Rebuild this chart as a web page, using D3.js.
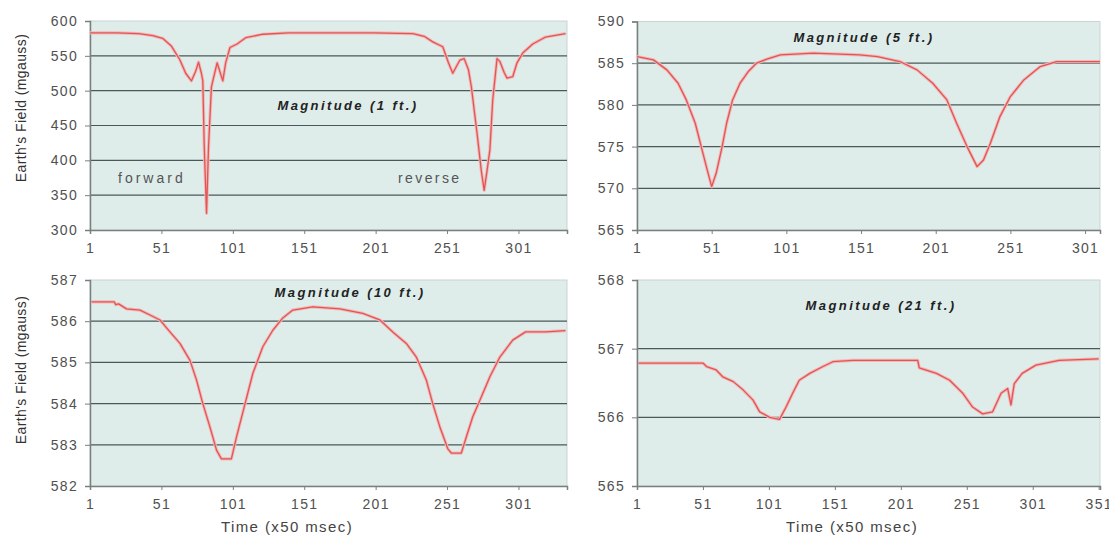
<!DOCTYPE html>
<html>
<head>
<meta charset="utf-8">
<script src="https://cdn.jsdelivr.net/npm/d3@7"></script>
<style>
  body { margin: 0; background: #fff; }
  svg { display: block; font-family: "Liberation Sans", Arial, sans-serif; }
  .tick text { fill: #505050; font-size: 14px; letter-spacing: 1.3px; }
  .axis path, .axis line { stroke: #7a7f7f; }
</style>
</head>
<body>
<svg id="chart" width="1109" height="538"></svg>
<script>
// Magnitude (1 ft.)
const time1 = [1, 20, 35, 45, 52, 58, 64, 68, 72, 75, 77, 79, 80, 81, 82.6, 84, 86, 87, 90, 94, 96, 99, 104, 110, 122, 140, 200, 227, 235, 241, 248, 252, 255, 260, 263, 266, 268, 272, 275, 277, 279, 281, 283, 286, 288, 291, 293, 297, 300, 304, 311, 320, 334];
const value1 = [583, 583, 582, 579, 575, 564, 544, 525, 514, 528, 541, 525, 514, 420, 324, 420, 505, 514, 540, 514, 540, 562, 567, 576, 581, 583, 583, 582, 578, 570, 563, 540, 525, 544, 546, 530, 506, 439, 385, 357, 385, 415, 487, 546, 542, 526, 518, 520, 540, 554, 567, 577, 582];

// Magnitude (5 ft.)
const time2 = [1, 12, 21, 28.5, 34, 40, 44, 48, 51, 54, 58, 61, 65, 70, 75.5, 81, 88, 97, 119, 150, 162, 177, 188.5, 199, 208.5, 215, 222, 228.7, 233, 237.6, 244, 251, 260, 271, 282, 311];
const value2 = [585.8, 585.4, 584.2, 582.6, 580.6, 577.8, 575, 572.2, 570.2, 571.8, 575, 577.8, 580.6, 582.6, 584, 585, 585.5, 586, 586.2, 586, 585.8, 585.2, 584.2, 582.6, 580.6, 577.8, 575, 572.6, 573.4, 575.4, 578.6, 581, 583, 584.6, 585.2, 585.2];

// Magnitude (10 ft.)
const time3 = [2, 18, 19, 21, 26.6, 36, 43, 50, 57, 64, 71, 75.6, 80, 85, 89.6, 93, 100, 103.6, 109, 115, 122, 129, 136, 143, 157, 176, 192, 204, 213, 222.5, 229.5, 236.5, 241, 246, 251.6, 254, 261, 264.5, 269, 274, 281, 288, 297, 306, 320, 334];
const value3 = [586.47, 586.47, 586.4, 586.42, 586.3, 586.27, 586.15, 586.03, 585.74, 585.46, 585.05, 584.57, 584, 583.43, 582.87, 582.66, 582.66, 583.19, 583.92, 584.73, 585.38, 585.78, 586.08, 586.27, 586.35, 586.3, 586.19, 586.03, 585.74, 585.46, 585.13, 584.57, 584, 583.43, 582.9, 582.8, 582.8, 583.19, 583.68, 584.08, 584.65, 585.13, 585.54, 585.74, 585.74, 585.77];

// Magnitude (21 ft.)
const time4 = [2, 30, 51, 53.7, 61, 66, 74, 81.4, 89, 94, 101.6, 109, 114, 119, 124, 132, 142, 149.5, 164.6, 213.8, 215, 228, 238, 248, 255.4, 263, 270.6, 277, 282, 284.5, 287, 293, 303.4, 321, 351];
const value4 = [566.79, 566.79, 566.79, 566.74, 566.69, 566.59, 566.52, 566.4, 566.25, 566.08, 566.0, 565.97, 566.15, 566.35, 566.54, 566.64, 566.74, 566.81, 566.83, 566.83, 566.72, 566.64, 566.54, 566.35, 566.15, 566.05, 566.08, 566.35, 566.42, 566.18, 566.49, 566.64, 566.76, 566.83, 566.85];

const xTicks1 = [1, 51, 101, 151, 201, 251, 301];
const xTicks4 = [1, 51, 101, 151, 201, 251, 301, 351];
const titles = ["Magnitude (1 ft.)", "Magnitude (5 ft.)", "Magnitude (10 ft.)", "Magnitude (21 ft.)"];

const panels = [
  { t: time1, v: value1, title: titles[0], xDom: [1, 335], yDom: [300, 600], yStep: 50, xTicks: xTicks1,
    box: { x0: 90, x1: 567, y0: 21, y1: 230 }, titlePos: [348, 110] },
  { t: time2, v: value2, title: titles[1], xDom: [1, 311], yDom: [565, 590], yStep: 5, xTicks: xTicks1,
    box: { x0: 637, x1: 1100, y0: 21.5, y1: 230 }, titlePos: [864, 42] },
  { t: time3, v: value3, title: titles[2], xDom: [1, 335], yDom: [582, 587], yStep: 1, xTicks: xTicks1,
    box: { x0: 90, x1: 567, y0: 280, y1: 486 }, titlePos: [350, 297] },
  { t: time4, v: value4, title: titles[3], xDom: [1, 352], yDom: [565, 568], yStep: 1, xTicks: xTicks4,
    box: { x0: 637, x1: 1100, y0: 280, y1: 486 }, titlePos: [881, 310] }
];

const svg = d3.select("#chart");

panels.forEach((p) => {
  const { x0, x1, y0, y1 } = p.box;
  const x = d3.scaleLinear().domain(p.xDom).range([x0, x1]);
  const y = d3.scaleLinear().domain(p.yDom).range([y1, y0]);
  const g = svg.append("g");

  // plot area
  g.append("rect")
    .attr("x", x0).attr("y", y0)
    .attr("width", x1 - x0).attr("height", y1 - y0)
    .attr("fill", "#deecea")
    .attr("stroke", "#c9d4d3");

  // horizontal grid lines
  const gridVals = d3.range(p.yDom[0] + p.yStep, p.yDom[1], p.yStep);
  g.selectAll(".grid")
    .data(gridVals)
    .join("line")
    .attr("x1", x0).attr("x2", x1)
    .attr("y1", (d) => y(d)).attr("y2", (d) => y(d))
    .attr("stroke", "#4b5858")
    .attr("stroke-width", 1.2);

  // axes
  const yValues = d3.range(p.yDom[0], p.yDom[1] + p.yStep / 2, p.yStep);
  g.append("g")
    .attr("class", "axis")
    .attr("transform", `translate(${x0},0)`)
    .call(d3.axisLeft(y).tickValues(yValues).tickSize(5).tickPadding(7).tickFormat(d3.format("d")))
    .call((a) => a.select(".domain").attr("stroke-width", 1.5));

  g.append("g")
    .attr("class", "axis")
    .attr("transform", `translate(0,${y1})`)
    .call(d3.axisBottom(x).tickValues(p.xTicks).tickSize(4).tickPadding(9).tickFormat(d3.format("d")))
    .call((a) => a.select(".domain").attr("stroke-width", 1.5));

  // series
  const pts = p.t.map((t, i) => [t, p.v[i]]);
  const line = d3.line().x((d) => x(d[0])).y((d) => y(d[1]));
  g.append("path")
    .datum(pts)
    .attr("d", line)
    .attr("fill", "none")
    .attr("stroke", "#f4b8b8")
    .attr("stroke-width", 3.2)
    .attr("stroke-linejoin", "round");
  g.append("path")
    .datum(pts)
    .attr("d", line)
    .attr("fill", "none")
    .attr("stroke", "#e05555")
    .attr("stroke-width", 1.3)
    .attr("stroke-linejoin", "round");

  // title
  g.append("text")
    .attr("x", p.titlePos[0]).attr("y", p.titlePos[1])
    .attr("text-anchor", "middle")
    .attr("font-size", 13)
    .attr("font-weight", "bold")
    .attr("font-style", "italic")
    .attr("letter-spacing", 2.4)
    .attr("fill", "#222")
    .text(p.title);
});

// annotations on the 1 ft. panel
svg.append("text").attr("x", 118).attr("y", 183).attr("font-size", 14).attr("letter-spacing", 3).attr("fill", "#555").text("forward");
svg.append("text").attr("x", 398).attr("y", 183).attr("font-size", 14).attr("letter-spacing", 2.4).attr("fill", "#555").text("reverse");

// axis titles
[108, 370].forEach((cy) => {
  svg.append("text")
    .attr("transform", `translate(26,${cy}) rotate(-90)`)
    .attr("text-anchor", "middle")
    .attr("font-size", 14)
    .attr("letter-spacing", 0.4)
    .attr("fill", "#333")
    .text("Earth's Field (mgauss)");
});
[287, 852].forEach((cx) => {
  svg.append("text")
    .attr("x", cx).attr("y", 532)
    .attr("text-anchor", "middle")
    .attr("font-size", 15)
    .attr("letter-spacing", 1.4)
    .attr("fill", "#444")
    .text("Time (x50 msec)");
});
</script>
</body>
</html>
